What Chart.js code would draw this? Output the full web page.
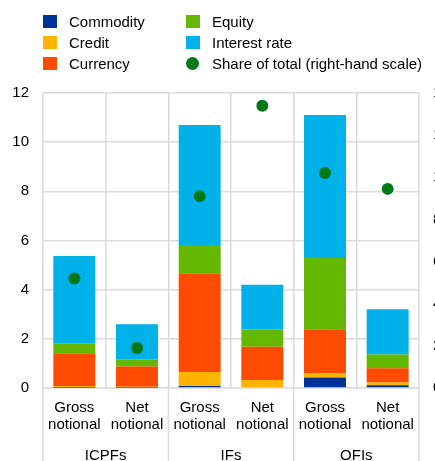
<!DOCTYPE html>
<html>
<head>
<meta charset="utf-8">
<script src="https://cdn.jsdelivr.net/npm/chart.js@4.4.1/dist/chart.umd.min.js"></script>
<style>
  html, body { margin: 0; padding: 0; background: #fff; overflow: hidden; }
  #wrap { position: relative; width: 449px; height: 461px; }
  #legend {
    position: absolute; left: 43px; top: 11px;
    display: grid; grid-auto-flow: column;
    grid-template-rows: repeat(3, 21px); grid-template-columns: 143px auto;
    font: 15px "Liberation Sans", Arial, sans-serif; color: #000;
  }
  .item { display: flex; align-items: center; white-space: nowrap; }
  .swatch { width: 14px; height: 13px; margin-right: 12px; }
  .dot { width: 13px; height: 13px; border-radius: 50%; margin-right: 13px; }
</style>
</head>
<body>
<div id="wrap">
  <div id="legend"></div>
  <canvas id="derivChart"></canvas>
</div>
<script>
// categories
const categories = [['Gross', 'notional'], ['Net', 'notional'], ['Gross', 'notional'], ['Net', 'notional'], ['Gross', 'notional'], ['Net', 'notional']];
const groups = ['ICPFs', 'IFs', 'OFIs'];

// stacked series (left-hand scale)
const commodity    = [0.01, 0.01, 0.08, 0.03, 0.43, 0.11];
const credit       = [0.07, 0.04, 0.57, 0.30, 0.17, 0.11];
const currency     = [1.33, 0.82, 4.02, 1.35, 1.79, 0.58];
const equity       = [0.41, 0.30, 1.15, 0.71, 2.90, 0.56];
const interestRate = [3.55, 1.42, 4.88, 1.81, 5.82, 1.84];

// share of total (right-hand scale)
const shareOfTotal = [5.2, 1.9, 9.1, 13.4, 10.2, 9.45];

// tick labels
const leftTicks  = [0, 2, 4, 6, 8, 10, 12];
const rightTicks = [0, 2, 4, 6, 8, 10, 12, 14];

const gridColor = '#dcdcdc';
const font = { family: '"Liberation Sans", Arial, sans-serif', size: 15 };

// vertical separators between the three groups, running down through the labels
const groupLines = {
    id: 'groupLines',
    afterDraw(chart) {
        const { ctx, chartArea } = chart;
        const x = chart.scales.x;
        const half = (x.getPixelForValue(1) - x.getPixelForValue(0)) / 2;
        const xs = [0, 2, 4].map(i => x.getPixelForValue(i) - half);
        xs.push(x.getPixelForValue(5) + half);
        ctx.save();
        ctx.strokeStyle = gridColor;
        ctx.lineWidth = 1.5;
        xs.forEach(px => {
            ctx.beginPath();
            ctx.moveTo(px, chartArea.bottom);
            ctx.lineTo(px, chart.height);
            ctx.stroke();
        });
        ctx.restore();
    }
};

const chart = new Chart(document.getElementById('derivChart'), {
    type: 'bar',
    data: {
        labels: categories,
        datasets: [
            { type: 'line', label: 'Share of total (right-hand scale)', data: shareOfTotal, yAxisID: 'y2',
              showLine: false, pointRadius: 6, pointHoverRadius: 6, pointBorderWidth: 0,
              backgroundColor: '#007816', borderColor: '#007816', order: 0 },
            { label: 'Commodity', data: commodity, backgroundColor: '#003299', order: 1 },
            { label: 'Credit', data: credit, backgroundColor: '#ffb400', order: 1 },
            { label: 'Currency', data: currency, backgroundColor: '#ff4b00', order: 1 },
            { label: 'Equity', data: equity, backgroundColor: '#65b800', order: 1 },
            { label: 'Interest rate', data: interestRate, backgroundColor: '#00b1ea', order: 1 }
        ]
    },
    options: {
        responsive: true,
        maintainAspectRatio: false,
        animation: false,
        barPercentage: 0.67,
        categoryPercentage: 1,
        layout: { padding: { top: 93, left: 0, right: 0, bottom: 0 } },
        plugins: {
            legend: { display: false },
            tooltip: { enabled: false }
        },
        scales: {
            x: {
                stacked: true,
                afterFit: s => { s.height = 57; },
                grid: { color: gridColor, lineWidth: 1.5, drawTicks: false, offset: true },
                border: { color: gridColor, width: 1.5 },
                ticks: { color: '#000', font: { ...font, lineHeight: 1.15 }, padding: 11, maxRotation: 0, autoSkip: false }
            },
            x2: {
                type: 'category',
                labels: groups,
                position: 'bottom',
                offset: true,
                weight: 1,
                afterFit: s => { s.height = 16; },
                grid: { display: false },
                border: { display: false },
                ticks: { color: '#000', font: { ...font, lineHeight: 1.15 }, padding: -6, maxRotation: 0 }
            },
            y: {
                stacked: true,
                min: leftTicks[0],
                max: leftTicks[leftTicks.length - 1],
                afterBuildTicks: s => { s.ticks = leftTicks.map(v => ({ value: v })); },
                afterFit: s => { s.width = 43; },
                grid: { color: gridColor, lineWidth: 1.5, drawTicks: false },
                border: { color: gridColor, width: 1.5 },
                ticks: { color: '#000', font, padding: 14 }
            },
            y2: {
                position: 'right',
                min: rightTicks[0],
                max: rightTicks[rightTicks.length - 1],
                afterBuildTicks: s => { s.ticks = rightTicks.map(v => ({ value: v })); },
                afterFit: s => { s.width = 30; },
                grid: { drawOnChartArea: false, drawTicks: false },
                border: { display: false },
                ticks: { color: '#000', font, padding: 14 }
            }
        }
    },
    plugins: [groupLines]
});

// legend in two columns, built from the datasets
const legendOrder = ['Commodity', 'Credit', 'Currency', 'Equity', 'Interest rate', 'Share of total (right-hand scale)'];
const legendEl = document.getElementById('legend');
legendOrder.forEach(name => {
    const ds = chart.data.datasets.find(d => d.label === name);
    const item = document.createElement('div');
    item.className = 'item';
    const mark = document.createElement('span');
    mark.className = ds.type === 'line' ? 'dot' : 'swatch';
    mark.style.background = ds.backgroundColor;
    const text = document.createElement('span');
    text.textContent = ds.label;
    item.appendChild(mark);
    item.appendChild(text);
    legendEl.appendChild(item);
});
</script>
</body>
</html>
